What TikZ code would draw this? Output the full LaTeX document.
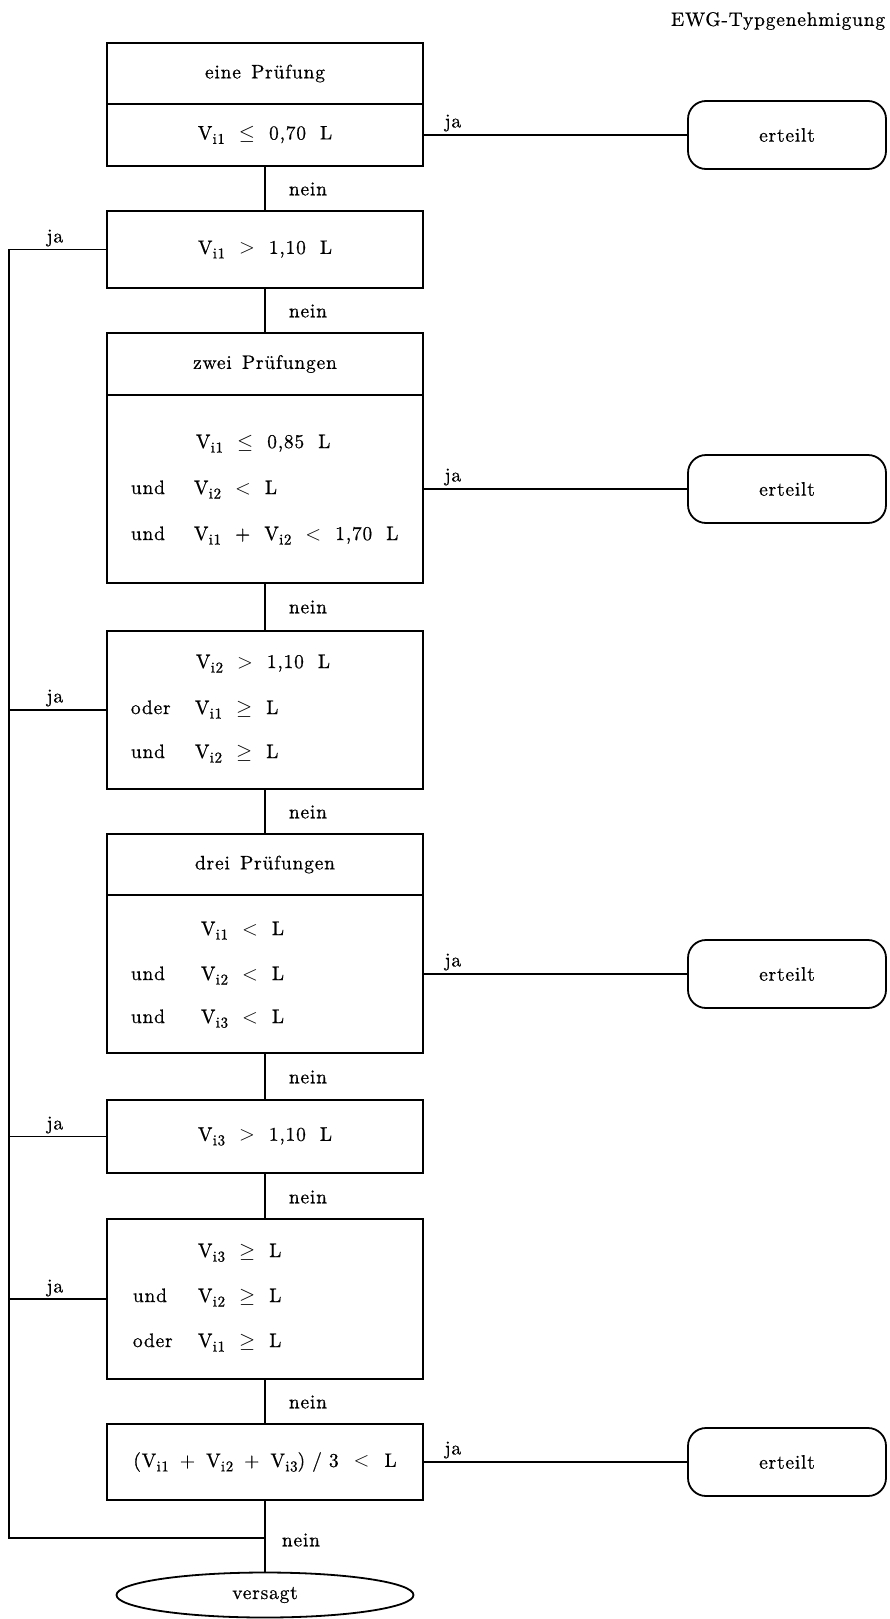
\documentclass[tikz,border=0pt]{standalone}
\usepackage{fontspec}
\setmainfont{lmroman10-regular.otf}[LetterSpace=4,WordSpace=1.4,FakeBold=0.6]
\usetikzlibrary{shapes.geometric}
\newcommand{\Vs}[1]{V\kern0.3pt\raisebox{-4.5pt}{\fontsize{15}{15}\selectfont i#1}}
\newcommand{\gp}{\hspace{14pt}}
\begin{document}
\begin{tikzpicture}[x=1pt,y=-1pt,line width=1.8pt,
  every node/.style={font=\fontsize{19.5}{22}\selectfont,inner sep=0pt},
  box/.style={draw,rectangle,minimum width=316pt},
  okbox/.style={draw,rounded corners=18pt,minimum width=198pt,minimum height=68pt},
  endbox/.style={draw,ellipse,minimum width=297pt,minimum height=45pt},
  lw/.style={anchor=base west}]
\useasboundingbox (0,0) rectangle (889,1619);

\node[anchor=east] (title) at (886,21) {EWG-Typgenehmigung};

% boxes
\node[box,minimum height=61pt] (b1a) at (265,73.5) {eine Prüfung};
\node[box,minimum height=62pt] (b1b) at (265,135) {\Vs{1}\gp$\leq$\gp 0,70\gp L};
\node[box,minimum height=77pt] (b2) at (265,249.5) {\Vs{1}\gp$>$\gp 1,10\gp L};
\node[box,minimum height=62pt] (b3a) at (265,364) {zwei Prüfungen};
\node[box,minimum height=188pt] (b3b) at (265,489) {};
\node[box,minimum height=158pt] (b4) at (265,710) {};
\node[box,minimum height=61pt] (b5a) at (265,864.5) {drei Prüfungen};
\node[box,minimum height=158pt] (b5b) at (265,974) {};
\node[box,minimum height=73pt] (b6) at (265,1136.5) {\Vs{3}\gp$>$\gp 1,10\gp L};
\node[box,minimum height=160pt] (b7) at (265,1299) {};
\node[box,minimum height=76pt] (b8) at (265,1462) {(\Vs{1}\hspace{11pt}+\hspace{11pt}\Vs{2}\hspace{11pt}+\hspace{11pt}\Vs{3})\hspace{7pt}/\hspace{7pt}3\hspace{15pt}$<$\hspace{15pt}L};

% box texts
\node[lw] (t3a) at (195,448) {\Vs{1}\gp$\leq$\gp 0,85\gp L};
\node[lw] (k3b) at (130,494) {und};
\node[lw] (t3b) at (193,494) {\Vs{2}\gp$<$\gp L};
\node[lw] (k3c) at (130,540) {und};
\node[lw] (t3c) at (193,540) {\Vs{1}\gp+\gp\Vs{2}\gp$<$\gp 1,70\gp L};

\node[lw] (t4a) at (195,668) {\Vs{2}\gp$>$\gp 1,10\gp L};
\node[lw] (k4b) at (130,714) {oder};
\node[lw] (t4b) at (194,714) {\Vs{1}\gp$\geq$\gp L};
\node[lw] (k4c) at (130,758) {und};
\node[lw] (t4c) at (194,758) {\Vs{2}\gp$\geq$\gp L};

\node[lw] (t5a) at (200,935) {\Vs{1}\gp$<$\gp L};
\node[lw] (k5b) at (130,980) {und};
\node[lw] (t5b) at (200,980) {\Vs{2}\gp$<$\gp L};
\node[lw] (k5c) at (130,1023) {und};
\node[lw] (t5c) at (200,1023) {\Vs{3}\gp$<$\gp L};

\node[lw] (t7a) at (197,1257) {\Vs{3}\gp$\geq$\gp L};
\node[lw] (k7b) at (132,1302) {und};
\node[lw] (t7b) at (197,1302) {\Vs{2}\gp$\geq$\gp L};
\node[lw] (k7c) at (132,1347) {oder};
\node[lw] (t7c) at (197,1347) {\Vs{1}\gp$\geq$\gp L};

% result nodes
\node[okbox] (e1) at (787,135) {erteilt};
\node[okbox] (e2) at (787,489) {erteilt};
\node[okbox] (e3) at (787,974) {erteilt};
\node[okbox] (e4) at (787,1462) {erteilt};
\node[endbox] (vs) at (265,1595) {versagt};

% connectors
\draw (b1b.east) -- (e1.west);
\draw (b3b.east) -- (e2.west);
\draw (b5b.east) -- (e3.west);
\draw (b8.east) -- (e4.west);
\draw (b1b.south) -- (b2.north);
\draw (b2.south) -- (b3a.north);
\draw (b3b.south) -- (b4.north);
\draw (b4.south) -- (b5a.north);
\draw (b5b.south) -- (b6.north);
\draw (b6.south) -- (b7.north);
\draw (b7.south) -- (b8.north);
\draw (b8.south) -- (vs.north);
\coordinate (LT) at (9,249.5);
\coordinate (LB) at (9,1538);
\coordinate (J) at (265,1538);
\draw (b2.west) -- (LT) -- (LB) -- (J);
\draw (b4.west) -- (b4.west -| LT);
\draw (b6.west) -- (b6.west -| LT);
\draw (b7.west) -- (b7.west -| LT);

% labels
\node (ja1) at (453,123) {ja};
\node (ja2) at (453,477) {ja};
\node (ja3) at (453,962) {ja};
\node (ja4) at (453,1450) {ja};
\node (jl1) at (55,238) {ja};
\node (jl2) at (55,698) {ja};
\node (jl3) at (55,1125) {ja};
\node (jl4) at (55,1288) {ja};

\node[anchor=west] (n1) at (288,189) {nein};
\node[anchor=west] (n2) at (288,311) {nein};
\node[anchor=west] (n3) at (288,607) {nein};
\node[anchor=west] (n4) at (288,812) {nein};
\node[anchor=west] (n5) at (288,1077) {nein};
\node[anchor=west] (n6) at (288,1197) {nein};
\node[anchor=west] (n7) at (288,1402) {nein};
\node[anchor=west] (n8) at (281,1540) {nein};
\end{tikzpicture}
\end{document}
